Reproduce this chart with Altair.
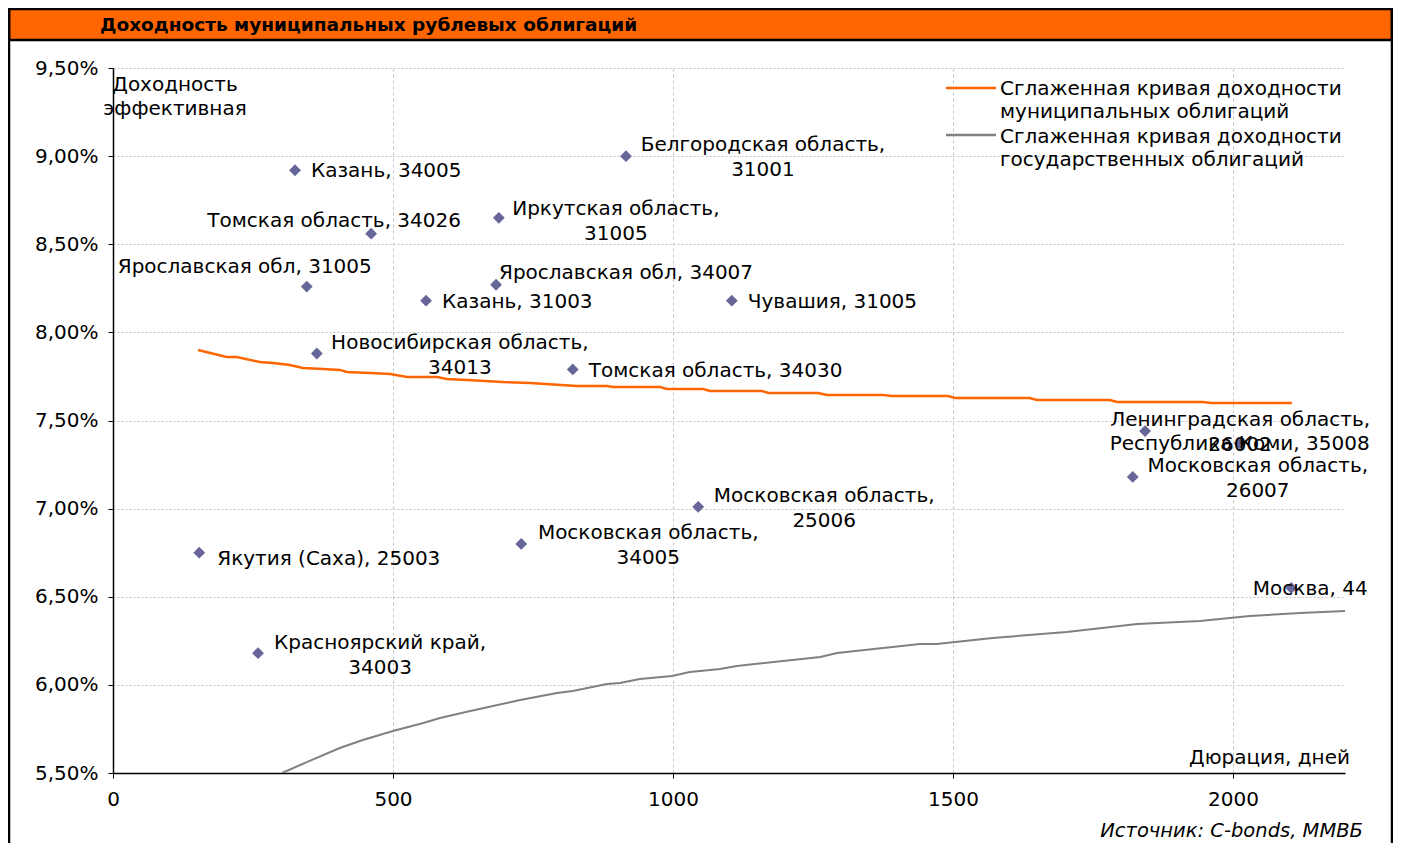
import altair as alt
import pandas as pd

FONT = "DejaVu Sans"

# ---- data ----
bond_names = [
    "Казань, 34005",
    "Белгородская область,\n31001",
    "Томская область, 34026",
    "Иркутская область,\n31005",
    "Ярославская обл, 31005",
    "Ярославская обл, 34007",
    "Казань, 31003",
    "Чувашия, 31005",
    "Новосибирская область,\n34013",
    "Томская область, 34030",
    "Ленинградская область,\n26002",
    "Республика Коми, 35008",
    "Московская область,\n26007",
    "Московская область,\n25006",
    "Московская область,\n34005",
    "Якутия (Саха), 25003",
    "Москва, 44",
    "Красноярский край,\n34003",
]
bond_duration = [325, 916, 461, 689, 346, 684, 559, 1105, 364, 821,
                 1843, 2012, 1821, 1045, 729, 154, 2104, 259]
bond_yield = [8.92, 9.00, 8.56, 8.65, 8.26, 8.27, 8.18, 8.18, 7.88, 7.79,
              7.44, 7.37, 7.18, 7.01, 6.80, 6.75, 6.55, 6.18]

muni_x = [152, 203, 221, 262, 286, 316, 339, 375, 405, 418, 459, 495, 525,
          579, 596, 632, 696, 745, 828, 882, 893, 977, 989, 1054, 1066, 1159,
          1170, 1259, 1275, 1375, 1391, 1491, 1504, 1637, 1650, 1780, 1793,
          1946, 1962, 2105]
muni_y = [7.900, 7.860, 7.860, 7.832, 7.826, 7.815, 7.798, 7.792, 7.787,
          7.775, 7.770, 7.764, 7.747, 7.747, 7.736, 7.730, 7.718, 7.713,
          7.696, 7.696, 7.690, 7.690, 7.679, 7.679, 7.667, 7.667, 7.656,
          7.656, 7.645, 7.645, 7.639, 7.639, 7.628, 7.628, 7.616, 7.616,
          7.605, 7.605, 7.599, 7.599]

gov_x = [302, 346, 405, 446, 500, 554, 584, 638, 727, 793, 821, 882, 905,
         941, 998, 1030, 1084, 1114, 1263, 1293, 1441, 1471, 1571, 1703,
         1829, 1941, 2030, 2120, 2200]
gov_y = [5.500, 5.562, 5.642, 5.687, 5.738, 5.784, 5.812, 5.852, 5.914,
         5.954, 5.965, 6.005, 6.011, 6.033, 6.050, 6.073, 6.090, 6.107,
         6.158, 6.181, 6.232, 6.232, 6.266, 6.300, 6.345, 6.362, 6.391,
         6.408, 6.419]

x_ticks = [0, 500, 1000, 1500, 2000]
y_ticks = [5.5, 6.0, 6.5, 7.0, 7.5, 8.0, 8.5, 9.0, 9.5]

title_text = "Доходность муниципальных рублевых облигаций"
y_title = "Доходность\nэффективная"
x_title = "Дюрация, дней"
source_text = "Источник: C-bonds, ММВБ"
legend_muni = "Сглаженная кривая доходности\nмуниципальных облигаций"
legend_gov = "Сглаженная кривая доходности\nгосударственных облигаций"

# label placement (style only)
label_align = ["left", "center", "center", "center", "center", "center",
               "left", "left", "center", "left", "center", "center",
               "center", "center", "center", "left", "center", "center"]
label_dx = [16, 137, -37, 117, -62, 130, 16, 16, 143, 16, 95, 0, 125, 126,
            127, 18, 19, 122]
label_dy = [7, -5, -7, -3, -14, -6, 7, 7, -5, 8, -5, 7, -5, -5, -5, 12, 7, -4]

ORANGE = "#FF6600"
GRAY = "#808080"
PURPLE = "#666699"
FS = 20

xscale = alt.Scale(domain=[0, 2200], nice=False, zero=False)
yscale = alt.Scale(domain=[5.5, 9.5], nice=False, zero=False)

x_axis = alt.Axis(values=x_ticks, title=None, grid=True, gridColor="#c4c4c4",
                  gridDash=[3, 3], gridWidth=1, domainColor="black",
                  domainWidth=1.5, tickColor="black", tickSize=5,
                  labelFont=FONT, labelFontSize=FS, labelColor="black",
                  labelPadding=11, labelFlush=False, format="d")
y_axis = alt.Axis(values=y_ticks, title=None, grid=True, gridColor="#c4c4c4",
                  gridDash=[2, 2], gridWidth=1, domainColor="black",
                  domainWidth=1.5, tickColor="black", tickSize=5,
                  labelFont=FONT, labelFontSize=FS, labelColor="black",
                  labelPadding=10,
                  labelExpr="replace(format(datum.value, '.2f'), '.', ',') + '%'")

gov_df = pd.DataFrame({"x": gov_x, "y": gov_y})
muni_df = pd.DataFrame({"x": muni_x, "y": muni_y})
bond_df = pd.DataFrame({"name": bond_names, "x": bond_duration, "y": bond_yield})

gov_line = alt.Chart(gov_df).mark_line(color=GRAY, strokeWidth=2, clip=True).encode(
    x=alt.X("x:Q", scale=xscale, axis=x_axis),
    y=alt.Y("y:Q", scale=yscale, axis=y_axis),
)
muni_line = alt.Chart(muni_df).mark_line(color=ORANGE, strokeWidth=2.5).encode(
    x=alt.X("x:Q", scale=xscale),
    y=alt.Y("y:Q", scale=yscale),
)
points = alt.Chart(bond_df).mark_point(shape="diamond", filled=True, size=140,
                                       color=PURPLE, opacity=1).encode(
    x=alt.X("x:Q", scale=xscale),
    y=alt.Y("y:Q", scale=yscale),
)

label_layers = []
for i in range(len(bond_names)):
    d = pd.DataFrame({"name": [bond_names[i]], "x": [bond_duration[i]],
                      "y": [bond_yield[i]]})
    label_layers.append(
        alt.Chart(d).mark_text(font=FONT, fontSize=FS, color="black",
                               align=label_align[i], baseline="alphabetic",
                               dx=label_dx[i], dy=label_dy[i], lineBreak="\n",
                               lineHeight=25).encode(
            x=alt.X("x:Q", scale=xscale),
            y=alt.Y("y:Q", scale=yscale),
            text="name:N",
        )
    )

one = pd.DataFrame({"a": [0]})

def fixed_text(txt, x, y, align="left", size=FS, weight="normal", style="normal",
               lh=24):
    return alt.Chart(one).mark_text(font=FONT, fontSize=size, color="black",
                                    align=align, baseline="alphabetic",
                                    fontWeight=weight, fontStyle=style,
                                    lineBreak="\n", lineHeight=lh, text=txt).encode(
        x=alt.value(x), y=alt.value(y))

def fixed_rule(x, x2, y, y2, color, w):
    return alt.Chart(one).mark_rule(color=color, strokeWidth=w).encode(
        x=alt.value(x), x2=alt.value(x2), y=alt.value(y), y2=alt.value(y2))

header = alt.Chart(one).mark_rect(fill=ORANGE, stroke="black", strokeWidth=2.5).encode(
    x=alt.value(-104), x2=alt.value(1279), y=alt.value(-59), y2=alt.value(-28))

decor = [
    header,
    fixed_rule(-104, -104, -60, 775, "black", 2.5),
    fixed_rule(1279, 1279, -60, 775, "black", 2.5),
    fixed_text(title_text, -13, -37, size=18.5, weight="bold"),
    fixed_text(y_title, 62, 23, align="center", lh=24),
    fixed_text(x_title, 1237, 696, align="right"),
    fixed_text(source_text, 1250, 769, align="right", size=19.5, style="italic"),
    fixed_rule(833, 883, 20, 20, ORANGE, 2.5),
    fixed_rule(833, 883, 67, 67, GRAY, 2.5),
    fixed_text(legend_muni, 887, 27, lh=23),
    fixed_text(legend_gov, 887, 75, lh=23),
]

chart = alt.layer(gov_line, muni_line, points, *label_layers, *decor).properties(
    width=1232, height=705,
    autosize=alt.AutoSizeParams(type="none"),
    padding={"left": 105, "top": 60, "right": 48, "bottom": 70},
    background="white",
).configure_view(strokeWidth=0)

chart.save("out.html", embed_options={"renderer": "svg", "actions": False})
